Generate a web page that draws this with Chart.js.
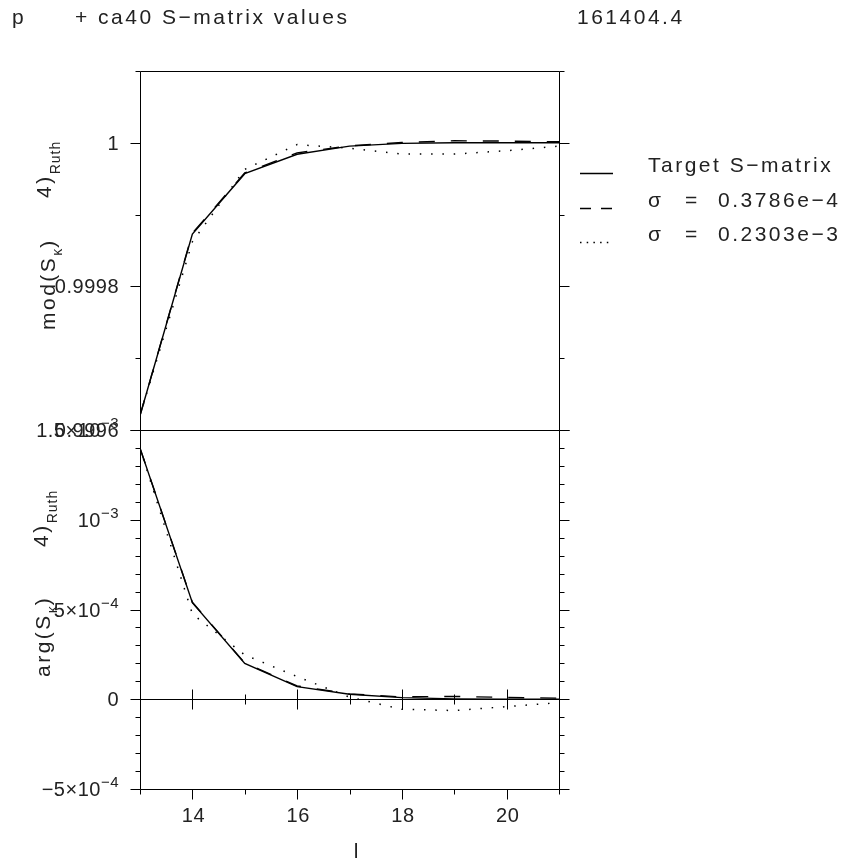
<!DOCTYPE html>
<html>
<head>
<meta charset="utf-8">
<script src="https://cdn.jsdelivr.net/npm/chart.js@4.4.1/dist/chart.umd.min.js"></script>
<style>
  html, body { margin: 0; padding: 0; background: #fff; }
  #wrap { position: relative; width: 851px; height: 863px; }
  #wrap canvas { position: absolute; left: 0; top: 0; }
</style>
</head>
<body>
<div id="wrap">
  <canvas id="modChart" width="851" height="863"></canvas>
  <canvas id="argChart" width="851" height="863"></canvas>
</div>
<script>
"use strict";

// partial waves l
const partialWaves = [13, 14, 15, 16, 17, 18, 19, 20, 21];

// mod(S_l) relative to Rutherford
const modTarget = [0.99962, 0.999873, 0.999957, 0.999984, 0.9999954, 0.9999992, 1.0, 1.0, 1.0];
const modSigmaA = [0.99962, 0.999874, 0.999958, 0.999986, 0.9999958, 1.0000004, 1.0000028, 1.0000024, 1.0000014];
const modSigmaB = [0.99962, 0.999862, 0.999963, 0.9999975, 0.9999925, 0.9999843, 0.9999843, 0.999989, 0.9999954];

// arg(S_l) relative to Rutherford
const argTarget = [1.399e-3, 5.38e-4, 2.0e-4, 7.0e-5, 2.8e-5, 9e-6, 2e-6, 0, 0];
const argSigmaA = [1.399e-3, 5.40e-4, 2.02e-4, 7.4e-5, 3.0e-5, 1.3e-5, 1.6e-5, 1.0e-5, 6e-6];
const argSigmaB = [1.40e-3, 4.75e-4, 2.47e-4, 1.26e-4, 1.2e-5, -5.6e-5, -6.3e-5, -4.1e-5, -1.9e-5];

const seriesLabels = ["Target S\u2212matrix", "\u03c3 = 0.3786e\u22124", "\u03c3 = 0.2303e\u22123"];

// axis ticks
const xMajorTicks = [14, 16, 18, 20];
const xTickLabels = ["14", "16", "18", "20"];
const modMajorTicks = [1, 0.9998, 0.9996];
const modTickLabels = [["1"], ["0.9998"], ["0.9996"]];
const argMajorTicks = [1.5e-3, 1e-3, 5e-4, 0, -5e-4];
const argTickLabels = [["1.5\u00d710", "\u22123"], ["10", "\u22123"], ["5\u00d710", "\u22124"], ["0"], ["\u22125\u00d710", "\u22124"]];

const FONT = '"Liberation Sans", Arial, sans-serif';
const INK = "#222";

const series = values => partialWaves.map((l, i) => ({ x: l, y: values[i] }));

function steps(min, max, step) {
    const out = [];
    for (let k = Math.round(min / step); k <= Math.round(max / step); k++) out.push(k * step);
    return out;
}

// draws a run of text pieces (base / sub / superscript) from a start point
function drawRich(ctx, parts, x, y, align) {
    let total = 0;
    parts.forEach(p => {
        ctx.font = `${p.size}px ${FONT}`;
        ctx.letterSpacing = (p.spacing || 0) + "px";
        p.w = ctx.measureText(p.text).width;
        total += p.w;
    });
    let cx = align === "right" ? x - total : align === "center" ? x - total / 2 : x;
    parts.forEach(p => {
        ctx.font = `${p.size}px ${FONT}`;
        ctx.letterSpacing = (p.spacing || 0) + "px";
        ctx.fillText(p.text, cx, y - (p.rise || 0));
        cx += p.w;
    });
    ctx.letterSpacing = "0px";
}

function drawRotated(ctx, parts, x, y) {
    ctx.save();
    ctx.translate(x, y);
    ctx.rotate(-Math.PI / 2);
    drawRich(ctx, parts, 0, 0, "left");
    ctx.restore();
}

const framePlugin = {
    id: "frame",
    afterDatasetsDraw(chart, args, opts) {
        const { ctx, chartArea: a, scales: { x, y } } = chart;
        const px = v => Math.round(v) + 0.5;
        const isMajor = (v, majors) => majors.some(m => Math.abs(m - v) < 1e-12);

        ctx.save();
        ctx.strokeStyle = "#000";
        ctx.lineWidth = 1;
        ctx.beginPath();
        ctx.rect(px(a.left), px(a.top), Math.round(a.right) - Math.round(a.left), Math.round(a.bottom) - Math.round(a.top));

        // y ticks, outside on both sides
        steps(y.min, y.max, opts.yMinorStep).forEach(v => {
            const yy = px(y.getPixelForValue(v));
            const len = isMajor(v, opts.yMajor) ? 10 : 5;
            ctx.moveTo(px(a.left) - len, yy); ctx.lineTo(px(a.left), yy);
            ctx.moveTo(px(a.right), yy); ctx.lineTo(px(a.right) + len, yy);
        });

        if (opts.xAxis) {
            const y0 = px(y.getPixelForValue(0));
            ctx.moveTo(px(a.left), y0); ctx.lineTo(px(a.right), y0);
            steps(x.min, x.max, 1).forEach(v => {
                const xx = px(x.getPixelForValue(v));
                const len = isMajor(v, xMajorTicks) ? 10 : 5;
                ctx.moveTo(xx, px(a.bottom)); ctx.lineTo(xx, px(a.bottom) + len);
                ctx.moveTo(xx, y0 - len); ctx.lineTo(xx, y0 + len);
            });
        }
        ctx.stroke();

        // tick labels
        ctx.fillStyle = INK;
        ctx.textBaseline = "alphabetic";
        opts.yMajor.forEach((v, i) => {
            const lab = opts.yLabels[i];
            const parts = [{ text: lab[0], size: 20, spacing: 0.5 }];
            if (lab[1]) parts.push({ text: lab[1], size: 15, spacing: 0.5, rise: 9 });
            drawRich(ctx, parts, 119, y.getPixelForValue(v) + 7, "right");
        });
        if (opts.xAxis) {
            xMajorTicks.forEach((v, i) => {
                drawRich(ctx, [{ text: xTickLabels[i], size: 20, spacing: 0.5 }], x.getPixelForValue(v) + 1, 822, "center");
            });
            drawRich(ctx, [{ text: "l", size: 21 }], 356, 858, "center");
        }

        // rotated axis title pieces
        opts.yTitle.forEach(t => drawRotated(ctx, t.parts, t.x, t.y));

        if (opts.header) {
            const big = { size: 21, spacing: 2.5 };
            drawRich(ctx, [{ text: "p", ...big }], 12, 24, "left");
            drawRich(ctx, [{ text: "+ ca40 S\u2212matrix values", ...big }], 75, 24, "left");
            drawRich(ctx, [{ text: "161404.4", ...big }], 577, 24, "left");

            // legend: short line sample + label for each series
            const rows = [171.7, 206.7, 240.7];
            const dashes = [[], [11, 10], [1.5, 5.2]];
            chart.data.datasets.forEach((ds, i) => {
                const ly = Math.round(rows[i] + 1.5) + 0.5;
                ctx.beginPath();
                ctx.setLineDash(dashes[i]);
                ctx.lineWidth = ds.borderWidth;
                ctx.moveTo(580, ly); ctx.lineTo(613, ly);
                ctx.stroke();
                ctx.setLineDash([]);
                if (i === 0) {
                    drawRich(ctx, [{ text: ds.label, ...big }], 648, rows[i], "left");
                } else {
                    const [sym, , val] = ds.label.split(" ");
                    drawRich(ctx, [{ text: sym, ...big }], 648, rows[i], "left");
                    drawRich(ctx, [{ text: "=", ...big }], 685, rows[i], "left");
                    drawRich(ctx, [{ text: val, ...big }], 718, rows[i], "left");
                }
            });
        }
        ctx.restore();
    }
};

function lineDatasets(values) {
    return [
        { label: seriesLabels[0], data: series(values[0]), borderColor: "#000", borderWidth: 1.4, borderDash: [] },
        { label: seriesLabels[1], data: series(values[1]), borderColor: "#000", borderWidth: 1.4, borderDash: [16, 16] },
        { label: seriesLabels[2], data: series(values[2]), borderColor: "#000", borderWidth: 1.5, borderDash: [1.5, 9.8] }
    ].map(ds => ({ ...ds, pointRadius: 0, tension: 0, fill: false }));
}

function makeChart(id, values, yMin, yMax, padding, frame) {
    return new Chart(document.getElementById(id), {
        type: "line",
        data: { datasets: lineDatasets(values) },
        options: {
            responsive: false,
            animation: false,
            events: [],
            layout: { padding },
            scales: {
                x: { type: "linear", min: 13, max: 21, display: false },
                y: { type: "linear", min: yMin, max: yMax, display: false }
            },
            plugins: { legend: { display: false }, tooltip: { enabled: false }, frame }
        },
        plugins: [framePlugin]
    });
}

const big = { size: 21, spacing: 2.5 };
const sub = { size: 14, spacing: 1 };

makeChart("modChart", [modTarget, modSigmaA, modSigmaB], 0.9996, 1.0001,
    { left: 140, right: 851 - 559, top: 71, bottom: 863 - 430 },
    {
        yMajor: modMajorTicks, yLabels: modTickLabels, yMinorStep: 1e-4, xAxis: false, header: true,
        yTitle: [
            { x: 55, y: 330, parts: [{ text: "mod(S", ...big }, { text: "\u03ba", ...sub, rise: -7 }, { text: ")", ...big }] },
            { x: 51, y: 198, parts: [{ text: "4)", ...big }, { text: "Ruth", ...sub, rise: -9 }] }
        ]
    });

makeChart("argChart", [argTarget, argSigmaA, argSigmaB], -5e-4, 1.5e-3,
    { left: 140, right: 851 - 559, top: 430, bottom: 863 - 789 },
    {
        yMajor: argMajorTicks, yLabels: argTickLabels, yMinorStep: 1e-4, xAxis: true, header: false,
        yTitle: [
            { x: 50, y: 677, parts: [{ text: "arg(S", ...big }, { text: "\u03ba", ...sub, rise: -7 }, { text: ")", ...big }] },
            { x: 48, y: 547, parts: [{ text: "4)", ...big }, { text: "Ruth", ...sub, rise: -9 }] }
        ]
    });
</script>
</body>
</html>
